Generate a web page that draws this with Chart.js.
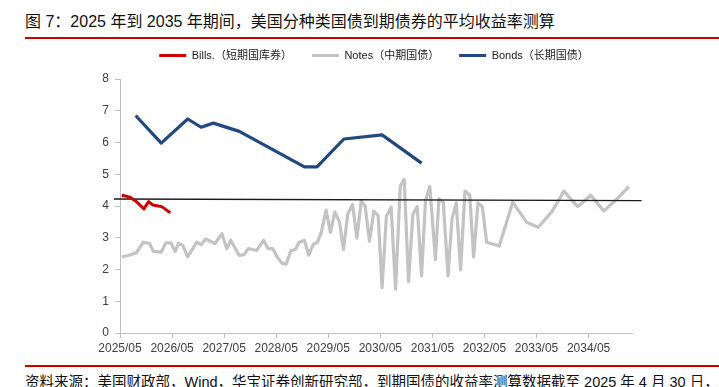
<!DOCTYPE html>
<html>
<head>
<meta charset="utf-8">
<script src="https://cdn.jsdelivr.net/npm/chart.js@4.4.1/dist/chart.umd.min.js"></script>
<style>
  body { margin: 0; width: 719px; height: 387px; overflow: hidden; background: #fff; position: relative;
         font-family: "Liberation Sans", "Noto Sans CJK SC", sans-serif; }
  #title { position: absolute; left: 25px; top: 8px; font-size: 16px; color: #111; white-space: nowrap; z-index: 2; }
  .rule { position: absolute; left: 25px; right: 0; height: 2px; background: #cc0000; z-index: 2; }
  #box { position: absolute; left: 0; top: 38px; width: 719px; height: 327px; }
  #note { position: absolute; left: 25px; top: 370px; font-size: 14.5px; color: #111; white-space: nowrap; }
</style>
</head>
<body>
<div id="title">图 7：2025 年到 2035 年期间，美国分种类国债到期债券的平均收益率测算</div>
<div class="rule" style="top:37px"></div>
<div id="box"><canvas id="chart"></canvas></div>
<div class="rule" style="top:365px"></div>
<div id="note">资料来源：美国财政部，Wind，华宝证券创新研究部，到期国债的收益率测算数据截至 2025 年 4 月 30 日，</div>

<script>
// x values are months counted from 2025/05
const xLabels = ["2025/05", "2026/05", "2027/05", "2028/05", "2029/05", "2030/05", "2031/05", "2032/05", "2033/05", "2034/05"];
const xMax = 118;

// Bills (短期国库券)
const billsMonth = [0.4, 1.5, 2.5, 3.6, 5.5, 6.6, 7.6, 8.5, 9.6, 11.6];
const billsYield = [4.34, 4.31, 4.26, 4.16, 3.91, 4.14, 4.03, 4.01, 3.98, 3.79];

// Notes (中期国债)
const notesMonth = [0.4, 1.9, 3.7, 5.4, 6.8, 7.7, 9.5, 10.6, 11.7, 12.7, 13.5, 14.5, 15.6, 17.7, 18.7, 19.7,
  21.9, 23.5, 24.6, 25.5, 27.5, 28.6, 29.6, 31.5, 33.1, 34.1, 35.2, 36.2, 37.3, 38.3, 39.4, 40.4, 41.3, 42.5,
  43.5, 44.5, 45.5, 46.4, 47.5, 48.5, 49.5, 50.6, 51.5, 52.5, 53.6, 54.6, 55.6, 56.5, 57.5, 58.5, 59.5, 60.4,
  61.4, 62.5, 63.5, 64.6, 65.5, 66.5, 67.5, 68.5, 69.5, 70.4, 71.4, 72.7, 73.5, 74.5, 75.6, 76.5, 77.5, 78.5,
  79.5, 80.6, 81.5, 82.5, 83.5, 84.5, 87.4, 90.5, 93.7, 96.4, 99.6, 102.3, 105.5, 108.5, 111.5, 114.2, 117.3];
const notesYield = [2.40, 2.44, 2.52, 2.86, 2.82, 2.57, 2.55, 2.84, 2.84, 2.57, 2.82, 2.75, 2.40, 2.86, 2.78, 2.96,
  2.82, 3.13, 2.65, 2.92, 2.44, 2.47, 2.66, 2.60, 2.92, 2.66, 2.66, 2.40, 2.20, 2.17, 2.60, 2.63, 2.86, 2.92,
  2.45, 2.78, 2.86, 3.17, 3.87, 3.17, 3.81, 3.49, 2.63, 3.75, 4.05, 2.99, 4.16, 4.00, 2.89, 3.84, 3.70, 1.43,
  3.68, 3.96, 1.38, 4.63, 4.84, 1.62, 3.73, 3.98, 1.80, 4.16, 4.61, 2.31, 4.23, 4.12, 1.80, 3.58, 4.10, 1.99,
  4.47, 4.34, 2.40, 4.10, 3.98, 2.86, 2.74, 4.12, 3.49, 3.33, 3.83, 4.47, 3.98, 4.34, 3.84, 4.18, 4.61];

// Bonds (长期国债)
const bondsMonth = [3.6, 9.5, 15.6, 18.7, 21.5, 27.5, 42.5, 45.4, 51.6, 60.4, 69.5];
const bondsYield = [6.85, 5.98, 6.74, 6.48, 6.61, 6.35, 5.23, 5.23, 6.11, 6.24, 5.35];

// black reference line, runs a little past both ends of the axis
const avgMonth = [-1.4, 120.2];
const avgYield = [4.22, 4.17];

function pts(xs, ys) {
  return xs.map((x, i) => ({ x: x, y: ys[i] }));
}

const axisColor = "#bfbfbf";
const tickColor = "#404040";

// pull the legend row up a bit without moving the plot area
const legendShift = {
  id: "legendShift",
  afterLayout(chart) {
    if (chart.legend) {
      chart.legend.top -= 8;
      chart.legend.bottom -= 8;
    }
  }
};

new Chart(document.getElementById("chart"), {
  type: "line",
  data: {
    datasets: [
      { label: "Bills.（短期国库券）", data: pts(billsMonth, billsYield), borderColor: "#cc0000", backgroundColor: "#cc0000", borderWidth: 3, order: 0 },
      { label: "Notes（中期国债）", data: pts(notesMonth, notesYield), borderColor: "#c3c3c3", backgroundColor: "#c3c3c3", borderWidth: 3.2, order: 3 },
      { label: "Bonds（长期国债）", data: pts(bondsMonth, bondsYield), borderColor: "#22497f", backgroundColor: "#22497f", borderWidth: 3.2, order: 1 },
      { label: "avg", data: pts(avgMonth, avgYield), borderColor: "#1a1a1a", borderWidth: 1.4, order: 2, clip: false }
    ]
  },
  plugins: [legendShift],
  options: {
    responsive: true,
    maintainAspectRatio: false,
    animation: false,
    elements: {
      point: { radius: 0, hoverRadius: 0 },
      line: { tension: 0, borderJoinStyle: "round", borderCapStyle: "butt" }
    },
    layout: { padding: { left: 29, right: 0, top: 0, bottom: 0 } },
    plugins: {
      tooltip: { enabled: false },
      legend: {
        position: "top",
        labels: {
          generateLabels: chart => Chart.defaults.plugins.legend.labels.generateLabels(chart).map(l => ({ ...l, lineWidth: 0 })),
          filter: item => item.text !== "avg",
          sort: (a, b) => a.datasetIndex - b.datasetIndex,
          boxWidth: 27,
          boxHeight: 3,
          padding: 20,
          color: "#222",
          font: { family: "Liberation Sans, Noto Sans CJK SC", size: 11 }
        }
      }
    },
    scales: {
      x: {
        type: "linear",
        min: 0,
        max: xMax,
        afterFit: s => { s.height = 32; },
        afterBuildTicks: s => { s.ticks = xLabels.map((l, i) => ({ value: i * 12 })); },
        grid: { drawOnChartArea: false, tickLength: 5, color: axisColor },
        border: { color: axisColor },
        ticks: {
          autoSkip: false, maxRotation: 0, padding: 3, color: tickColor,
          font: { family: "Liberation Sans", size: 12 },
          callback: v => xLabels[Math.round(v / 12)]
        }
      },
      y: {
        min: 0,
        max: 8,
        afterFit: s => { s.width = 91; },
        grid: { drawOnChartArea: false, tickLength: 5, color: axisColor },
        border: { color: axisColor },
        ticks: { stepSize: 1, padding: 6, color: tickColor, font: { family: "Liberation Sans", size: 12 } }
      },
      // empty right-hand gutter so the plot stops where the original does
      gutter: {
        position: "right",
        afterFit: s => { s.width = 87; },
        grid: { display: false },
        border: { display: false },
        ticks: { display: false }
      }
    }
  }
});
</script>
</body>
</html>
